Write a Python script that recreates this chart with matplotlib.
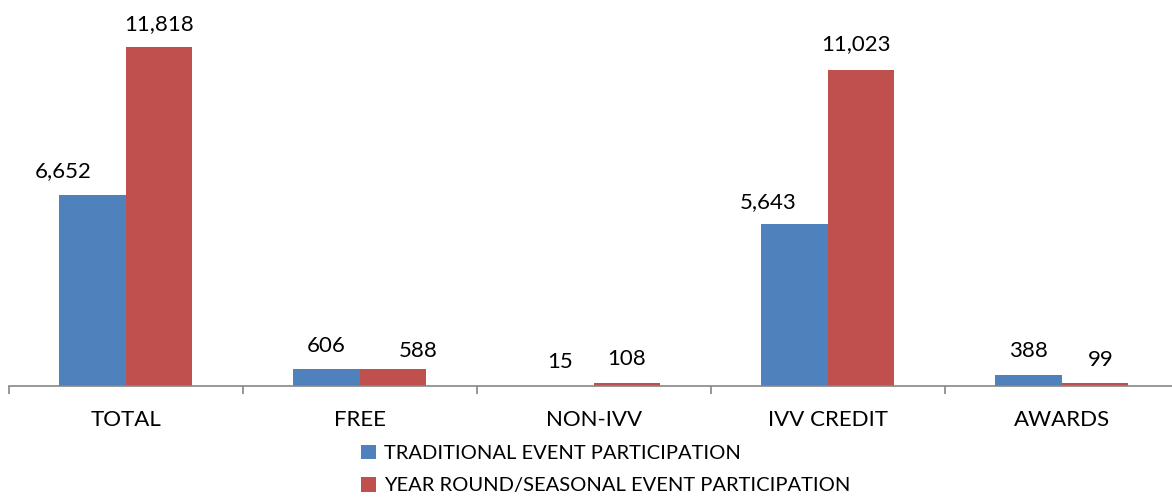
import matplotlib
matplotlib.use("Agg")
import matplotlib.pyplot as plt
import numpy as np

plt.rcParams["font.family"] = ["Lato", "DejaVu Sans"]

categories = ["TOTAL", "FREE", "NON-IVV", "IVV CREDIT", "AWARDS"]
traditional = [6652, 606, 15, 5643, 388]
year_round = [11818, 588, 108, 11023, 99]
series_names = ["TRADITIONAL EVENT PARTICIPATION",
                "YEAR ROUND/SEASONAL EVENT PARTICIPATION"]

# manual label nudges in pixels (dx, gap above bar)
trad_dx = [-29, 0, 0, -26, 0]
trad_gap = [18, 17, 18, 16, 18]
year_dx = [0, 25, 0, -5, 6]
year_gap = [17, 12, 18, 20, 17]

BLUE = "#4F81BD"
RED = "#C0504D"
GRAY = "#868686"

W, H, DPI = 1172, 499, 100
fig = plt.figure(figsize=(W / DPI, H / DPI), dpi=DPI)
ax = fig.add_axes([8.7 / W, (H - 386) / H, 1170 / W, 344.2 / H])

x = np.arange(len(categories))
bw = 0.285
ax.bar(x - bw / 2, traditional, bw, color=BLUE, label=series_names[0])
ax.bar(x + bw / 2, year_round, bw, color=RED, label=series_names[1])

px = 72 / DPI
for xi, v, dx, g in zip(x - bw / 2, traditional, trad_dx, trad_gap):
    ax.annotate(f"{v:,}", xy=(xi, v), xytext=(dx * px, g * px),
                textcoords="offset points", ha="center", va="baseline",
                fontsize=16)
for xi, v, dx, g in zip(x + bw / 2, year_round, year_dx, year_gap):
    ax.annotate(f"{v:,}", xy=(xi, v), xytext=(dx * px, g * px),
                textcoords="offset points", ha="center", va="baseline",
                fontsize=16)

ax.set_xlim(-0.5, len(categories) - 0.5)
ax.set_ylim(0, 12000)
ax.set_yticks([])
for s in ["top", "right", "left"]:
    ax.spines[s].set_visible(False)
ax.spines["bottom"].set_color(GRAY)
ax.spines["bottom"].set_linewidth(1.2)

ax.set_xticks(np.arange(len(categories) + 1) - 0.5)
ax.set_xticklabels([])
ax.tick_params(axis="x", which="major", length=6, width=1.2, color=GRAY)
ax.set_xticks(x, minor=True)
ax.set_xticklabels(categories, minor=True, fontsize=16)
ax.tick_params(axis="x", which="minor", length=0, pad=17)

fig.legend(loc="upper left", bbox_to_anchor=(361 / W, 1 - 445 / H),
           frameon=False, fontsize=14.5, handlelength=0.73, handleheight=0.73,
           handletextpad=0.42, labelspacing=0.74, borderpad=0, borderaxespad=0)

fig.savefig("out.png", dpi=DPI)
